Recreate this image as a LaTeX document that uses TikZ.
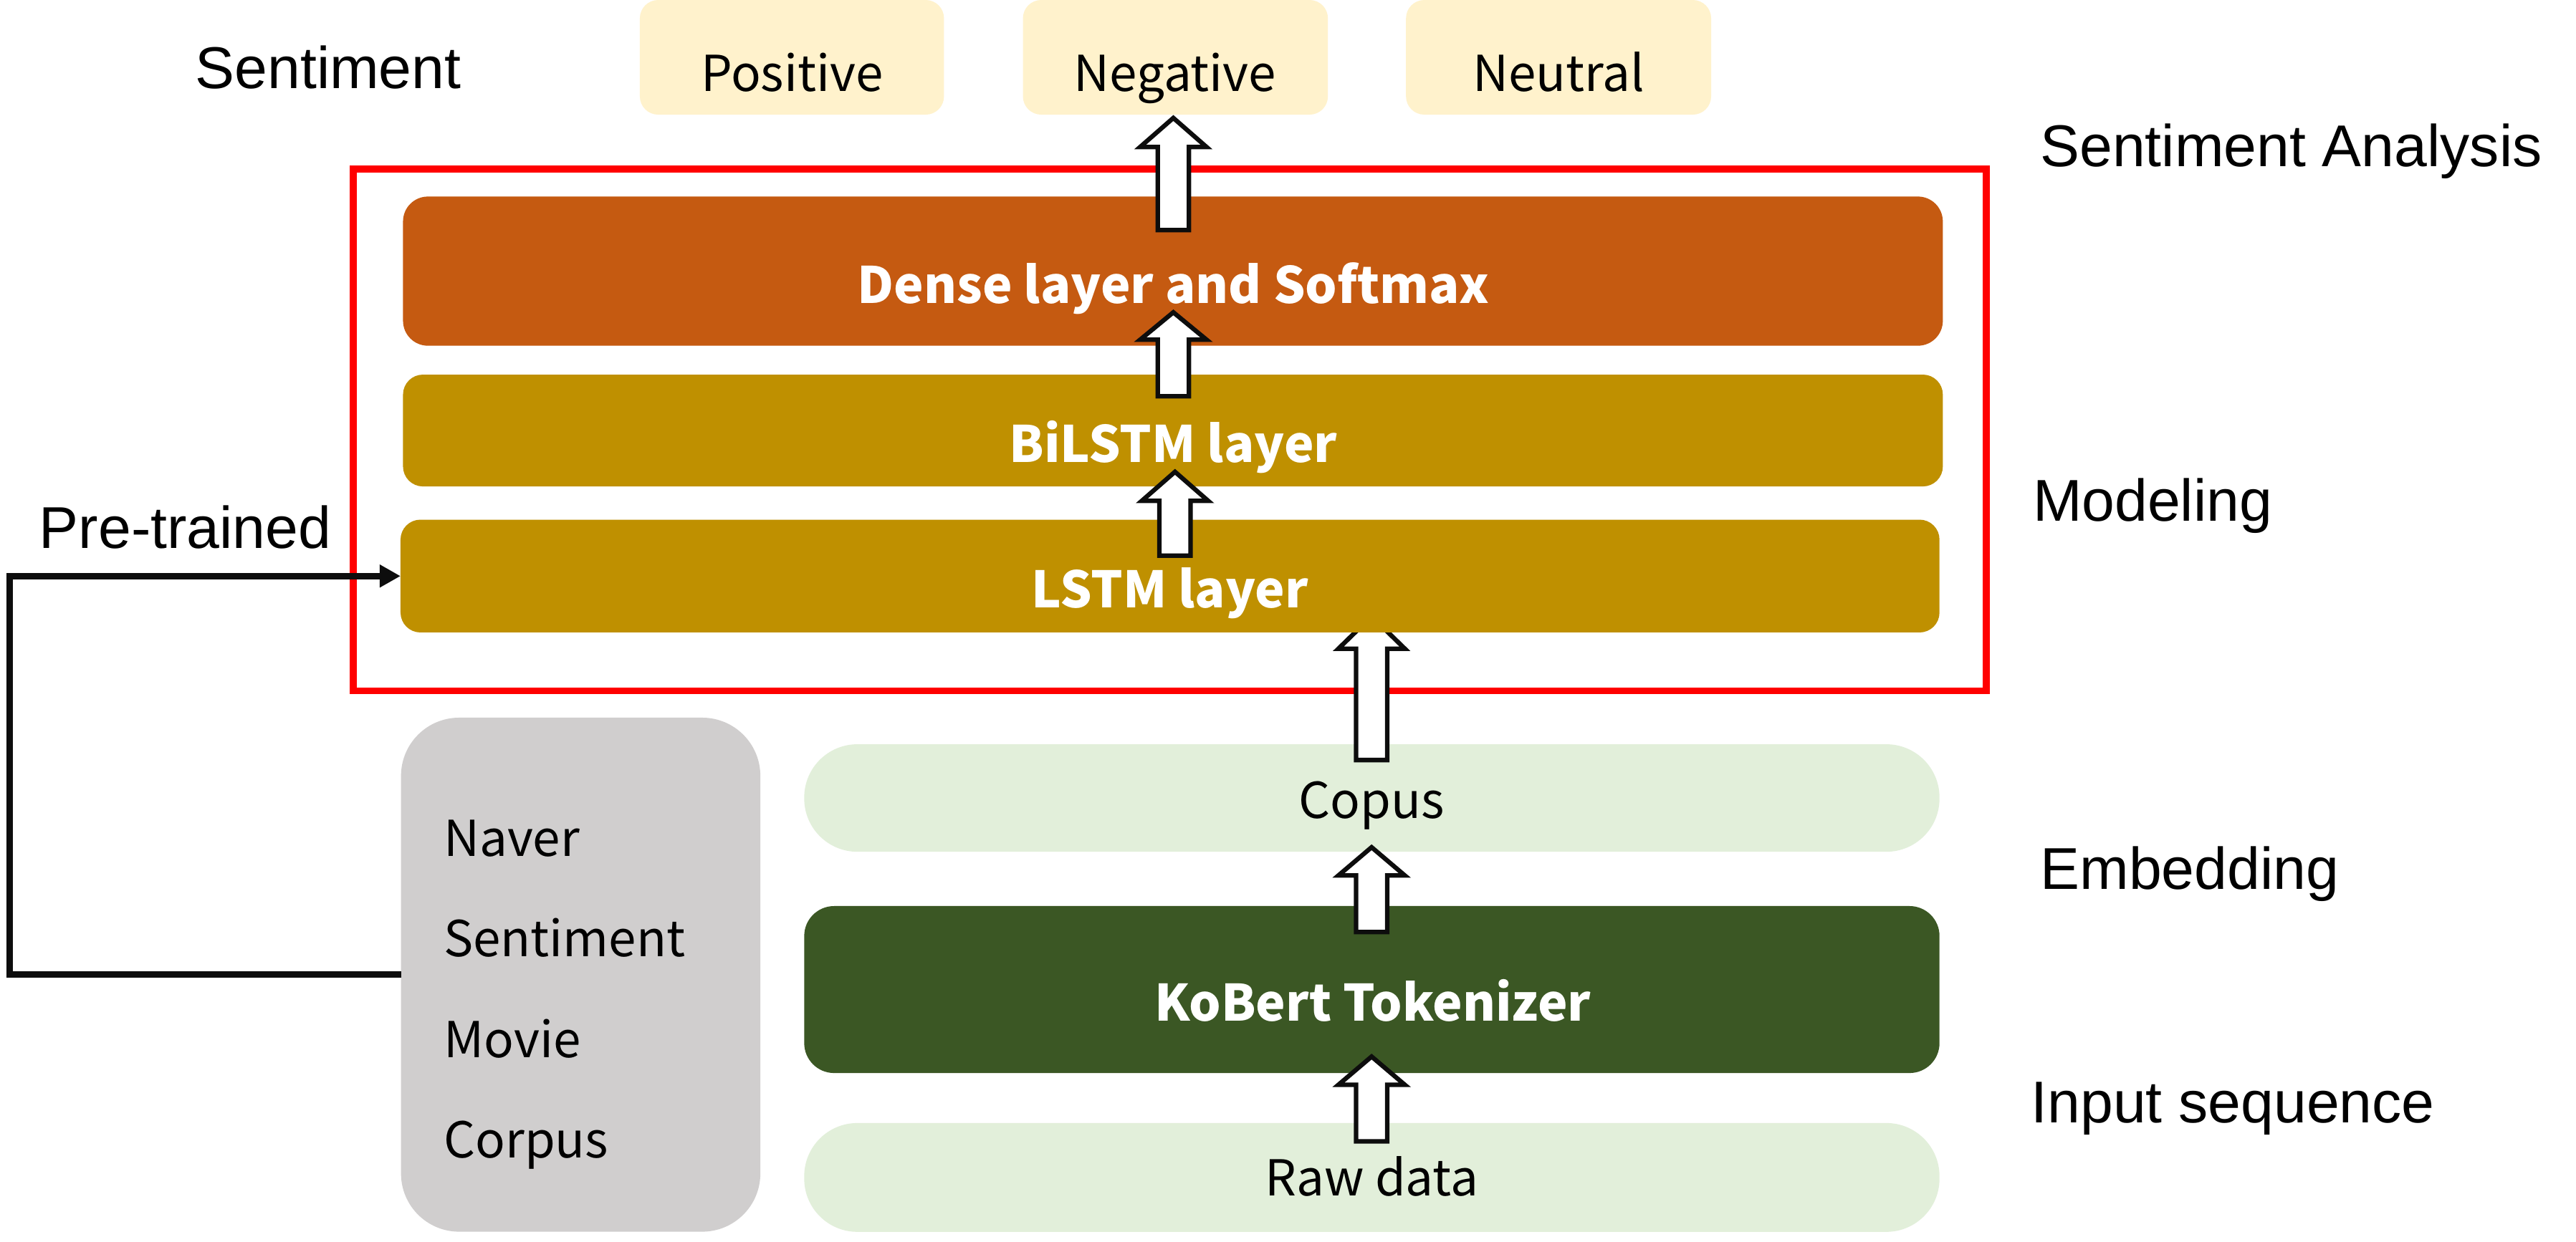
\documentclass[tikz,border=0pt]{standalone}
\usepackage{fontspec}
\newfontfamily\labfont{Liberation Sans}
\newfontfamily\boxfont{Noto Sans CJK KR}
\usetikzlibrary{arrows.meta}
\definecolor{cyellow}{HTML}{FFF2CC}
\definecolor{cdense}{HTML}{C55A11}
\definecolor{clstm}{HTML}{BF9000}
\definecolor{cgray}{HTML}{D0CECE}
\definecolor{clgreen}{HTML}{E2EFDA}
\definecolor{cdgreen}{HTML}{3B5724}
\definecolor{cblack}{HTML}{0D0D0D}
\newcommand\uparr[4]{%
  \draw[blockarr] (#1,#2) -- (#1+20,#3) -- (#1+9.4,#3) -- (#1+9.4,#4)
    -- (#1-9.4,#4) -- (#1-9.4,#3) -- (#1-20,#3) -- cycle;}
\tikzset{
  box/.style={rectangle, inner sep=0pt, outer sep=0pt, draw=none},
  outlab/.style={font=\labfont\fontsize{35.5}{40}\selectfont, anchor=base west, inner sep=0pt},
  inlab/.style={font=\boxfont\fontsize{29.8}{36}\selectfont, anchor=base, inner sep=0pt},
  graylab/.style={font=\boxfont\fontsize{29.8}{36}\selectfont, anchor=base west, inner sep=0pt},
  boldlab/.style={font=\boxfont\bfseries\fontsize{30.2}{36}\selectfont, anchor=base, inner sep=0pt, text=white},
  blockarr/.style={draw=cblack, fill=white, line width=2.7pt, line join=miter},
  fbline/.style={draw=cblack, line width=3.8pt, line join=miter},
}
\begin{document}
\begin{tikzpicture}[x=1pt, y=-1pt]
\useasboundingbox[fill=white] (0,0) rectangle (1550,747.3);

% output boxes
\node[box, fill=cyellow, rounded corners=11pt, minimum width=183pt, minimum height=69pt] (pos) at (476.5,34.5) {};
\node[box, fill=cyellow, rounded corners=11pt, minimum width=183.5pt, minimum height=69pt] (neg) at (707.25,34.5) {};
\node[box, fill=cyellow, rounded corners=11pt, minimum width=183.6pt, minimum height=69pt] (neu) at (937.8,34.5) {};
\node[inlab] (tpos) at (476.5,55) {Positive};
\node[inlab] (tneg) at (707,55) {Negative};
\node[inlab] (tneu) at (938,55) {Neutral};

% modeling frame
\node[box, draw=red, line width=4.2pt, minimum width=982.5pt, minimum height=314pt] (frame) at (703.75,258.8) {};

% lower boxes
\node[box, fill=cgray, rounded corners=35pt, minimum width=216.2pt, minimum height=309.4pt] (gray) at (349.4,586.7) {};
\node[box, fill=clgreen, rounded corners=32pt, minimum width=683.1pt, minimum height=64.7pt] (copus) at (825.45,480.35) {};
\node[box, fill=cdgreen, rounded corners=18pt, minimum width=683.1pt, minimum height=100.5pt] (kobert) at (825.45,595.65) {};
\node[box, fill=clgreen, rounded corners=32pt, minimum width=683.1pt, minimum height=65.5pt] (raw) at (825.45,708.75) {};

% arrow from Copus to LSTM (behind LSTM box)
\uparr{825.3}{371}{390.5}{457.5}

% layer boxes
\node[box, fill=cdense, rounded corners=15pt, minimum width=926.5pt, minimum height=89.8pt] (dense) at (705.75,163.2) {};
\node[box, fill=clstm, rounded corners=12pt, minimum width=926.5pt, minimum height=67.3pt] (bilstm) at (705.75,259.15) {};
\node[box, fill=clstm, rounded corners=12pt, minimum width=926pt, minimum height=67.9pt] (lstm) at (704,346.75) {};

\node[boldlab] (tdense) at (706,182.6) {Dense layer and Softmax};
\node[boldlab] (tbilstm) at (706,278.5) {BiLSTM layer};
\node[boldlab] (tlstm) at (704,366) {LSTM layer};
\node[boldlab] (tkobert) at (826,614.6) {KoBert Tokenizer};
\node[inlab] (tcopus) at (825.3,492.7) {Copus};
\node[inlab] (traw) at (825.4,720) {Raw data};

\node[graylab] (g1) at (266.8,515.6) {Naver};
\node[graylab] (g2) at (266.8,576) {Sentiment};
\node[graylab] (g3) at (266.8,636.5) {Movie};
\node[graylab] (g4) at (266.8,697) {Corpus};

% block arrows
\uparr{706}{71}{88.5}{138.5}
\uparr{706}{188}{204.5}{238.5}
\uparr{707}{284}{301.5}{334.5}
\uparr{825.3}{510}{527}{561}
\uparr{825.3}{636}{653}{687}

% pre-trained feedback
\draw[fbline, -{Triangle[length=12.5pt,width=13pt]}] (gray.west) -- ++(-235.5,0) |- (lstm.west);

% outer labels
\node[outlab] (lsent) at (117.4,53.2) {Sentiment};
\node[outlab] (lsa) at (1227.5,100.3) {Sentiment Analysis};
\node[outlab] (lmod) at (1223,313.7) {Modeling};
\node[outlab] (lpre) at (23.5,330) {Pre-trained};
\node[outlab] (lemb) at (1227.5,535.2) {Embedding};
\node[outlab] (linp) at (1222,676) {Input sequence};
\end{tikzpicture}
\end{document}
